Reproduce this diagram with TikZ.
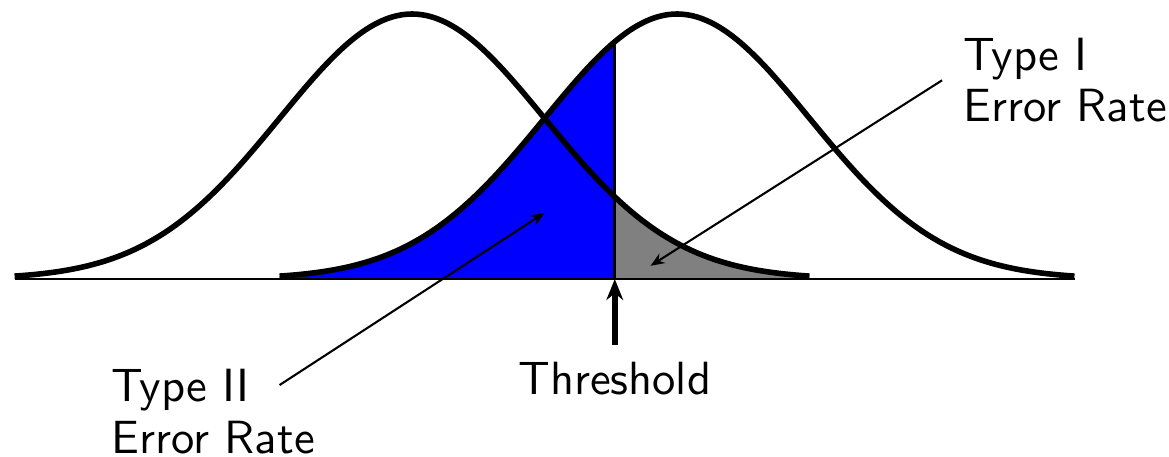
\documentclass[tikz,border=0pt]{standalone}
\usepackage{tikz}
\usetikzlibrary{arrows.meta,positioning}
\newcommand{\bellcurve}[2]{2*exp(-((#1)-(#2))^2/2)}
\newcommand{\cutoff}{0.53}

\begin{document}
\begin{tikzpicture}[
    curve/.style={
        very thick,
        smooth,
        samples=120
    },
    pointer/.style={
        -{Stealth[length=3pt,width=2.4pt]},
        line width=0.45pt
    },
    marker/.style={
        -{Stealth[length=4.5pt,width=3.6pt]},
        very thick
    },
    label/.style={
        align=left,
        font=\sffamily\fontsize{10}{11}\selectfont
    }
]
\useasboundingbox (-4.11,-1.343) rectangle (4.713,2.106);

% shaded error areas
\fill[blue] (-2,0) -- plot[curve,domain=-2:\cutoff] (\x,{\bellcurve{\x}{1}})
    -- (\cutoff,0) -- cycle;
\fill[gray] (\cutoff,0) -- plot[curve,domain=\cutoff:2] (\x,{\bellcurve{\x}{-1}})
    -- (2,0) -- cycle;

\coordinate (left end) at (-4,0);
\coordinate (right end) at (4,0);
\coordinate (cut) at (\cutoff,0);
\coordinate (cut top) at (\cutoff,{\bellcurve{\cutoff}{1}});

\draw[line width=0.5pt] (left end) -- (right end);
\draw[line width=0.6pt] (cut) -- (cut top);

% the two distributions
\draw[curve] plot[domain=-4:2] (\x,{\bellcurve{\x}{-1}});
\draw[curve] plot[domain=-2:4] (\x,{\bellcurve{\x}{1}});

% threshold
\coordinate (cut tail) at (\cutoff,-0.5);
\draw[marker] (cut tail) -- (cut);
\node[label, below=0pt of cut tail] (threshold) {Threshold};

% error labels
\node[label] (typeone) at (3.93,1.5) {Type I\\Error Rate};
\node[label] (typetwo) at (-2.5,-1) {Type II\\Error Rate};

\coordinate (one tail) at (3,1.5);
\coordinate (one tip) at (0.8,0.1);
\coordinate (two tail) at (-2,-0.8);
\coordinate (two tip) at (0,0.5);

\draw[pointer] (one tail) -- (one tip);
\draw[pointer] (two tail) -- (two tip);

\end{tikzpicture}
\end{document}
